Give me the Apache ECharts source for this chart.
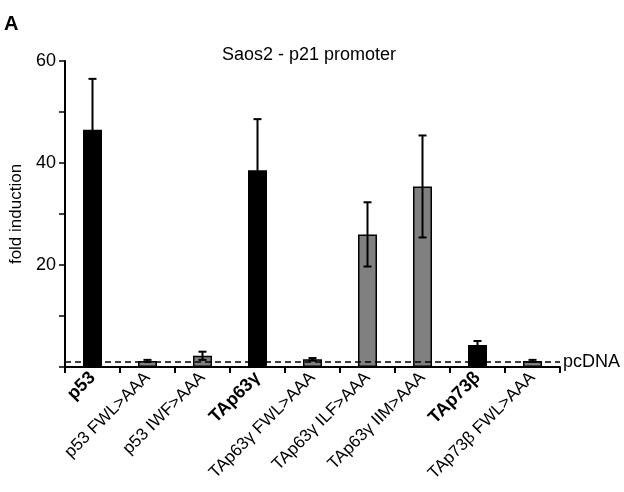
<!DOCTYPE html>
<html>
<head>
<meta charset="utf-8">
<script src="https://cdn.jsdelivr.net/npm/echarts@6/dist/echarts.min.js"></script>
<style>
html,body{margin:0;padding:0;background:#fff;}
#chart{width:624px;height:492px;}
</style>
</head>
<body>
<div id="chart"></div>
<script>
const categories = ['p53', 'p53 FWL>AAA', 'p53 IWF>AAA', 'TAp63γ', 'TAp63γ FWL>AAA', 'TAp63γ ILF>AAA', 'TAp63γ IIM>AAA', 'TAp73β', 'TAp73β FWL>AAA'];
const boldCats = ['p53', 'TAp63γ', 'TAp73β'];
const foldValues = [46.5, 1.2, 2.2, 38.6, 1.5, 26.0, 35.4, 4.3, 1.2];
const errorValues = [10.0, 0.2, 0.8, 10.0, 0.25, 6.3, 10.0, 0.8, 0.2];
const yTickLabels = [20, 40, 60];
const pcDNALevel = 1;

const FONT = 'Liberation Sans, Arial, sans-serif';
const chart = echarts.init(document.getElementById('chart'));

const barData = foldValues.map((v, i) => ({
  value: v,
  itemStyle: boldCats.includes(categories[i])
    ? { color: '#000', borderColor: '#000', borderWidth: 1.5 }
    : { color: '#808080', borderColor: '#000', borderWidth: 1.5 }
}));
const errData = foldValues.map((v, i) => [i, v - errorValues[i], v + errorValues[i]]);

chart.setOption({
  animation: false,
  backgroundColor: '#fff',
  grid: { left: 63, right: 64, top: 61, bottom: 125, containLabel: false },
  graphic: [
    { type: 'text', left: 4, top: 14, style: { text: 'A', font: 'bold 20px ' + FONT, fill: '#000' } },
    { type: 'text', x: 309, y: 55, style: { text: 'Saos2 - p21 promoter', font: '18px ' + FONT, fill: '#000', textAlign: 'center', textVerticalAlign: 'middle' } }
  ],
  xAxis: {
    type: 'category',
    data: categories,
    boundaryGap: true,
    axisLine: { lineStyle: { color: '#000', width: 2 } },
    axisTick: { show: true, length: 6, lineStyle: { color: '#000', width: 2 } },
    axisLabel: {
      interval: 0,
      rotate: 45,
      margin: 8,
      color: '#000',
      fontFamily: FONT,
      fontSize: 17,
      formatter: function (v) { return boldCats.includes(v) ? '{b|' + v + '}' : v; },
      rich: { b: { fontWeight: 'bold', fontSize: 18, fontFamily: FONT, color: '#000' } }
    }
  },
  yAxis: {
    type: 'value',
    min: 0, max: 60, interval: 10,
    name: 'fold induction',
    nameLocation: 'middle',
    nameGap: 40,
    nameTextStyle: { fontFamily: FONT, fontSize: 17, color: '#000' },
    axisLine: { show: true, lineStyle: { color: '#000', width: 2 } },
    axisTick: { show: true, length: 6, lineStyle: { color: '#000', width: 1.5 } },
    splitLine: { show: false },
    axisLabel: {
      color: '#000', fontFamily: FONT, fontSize: 18, margin: 9,
      formatter: function (v) { return yTickLabels.includes(v) ? String(v) : ''; }
    }
  },
  series: [
    {
      type: 'bar',
      data: barData,
      barWidth: 19,
      z: 2,
      markLine: {
        silent: true,
        symbol: 'none',
        lineStyle: { color: '#000', type: [6, 4], width: 1.5 },
        label: { show: true, position: 'end', formatter: 'pcDNA', color: '#000', fontFamily: FONT, fontSize: 18, distance: 3 },
        data: [{ yAxis: pcDNALevel }]
      }
    },
    {
      type: 'custom',
      z: 3,
      data: errData,
      renderItem: function (params, api) {
        const x = api.value(0);
        const lo = api.coord([x, api.value(1)]);
        const hi = api.coord([x, api.value(2)]);
        const cap = 4;
        const st = { stroke: '#000', lineWidth: 2 };
        return {
          type: 'group',
          children: [
            { type: 'line', shape: { x1: hi[0], y1: hi[1], x2: lo[0], y2: lo[1] }, style: st },
            { type: 'line', shape: { x1: hi[0] - cap, y1: hi[1], x2: hi[0] + cap, y2: hi[1] }, style: st },
            { type: 'line', shape: { x1: lo[0] - cap, y1: lo[1], x2: lo[0] + cap, y2: lo[1] }, style: st }
          ]
        };
      }
    }
  ]
});
</script>
</body>
</html>
